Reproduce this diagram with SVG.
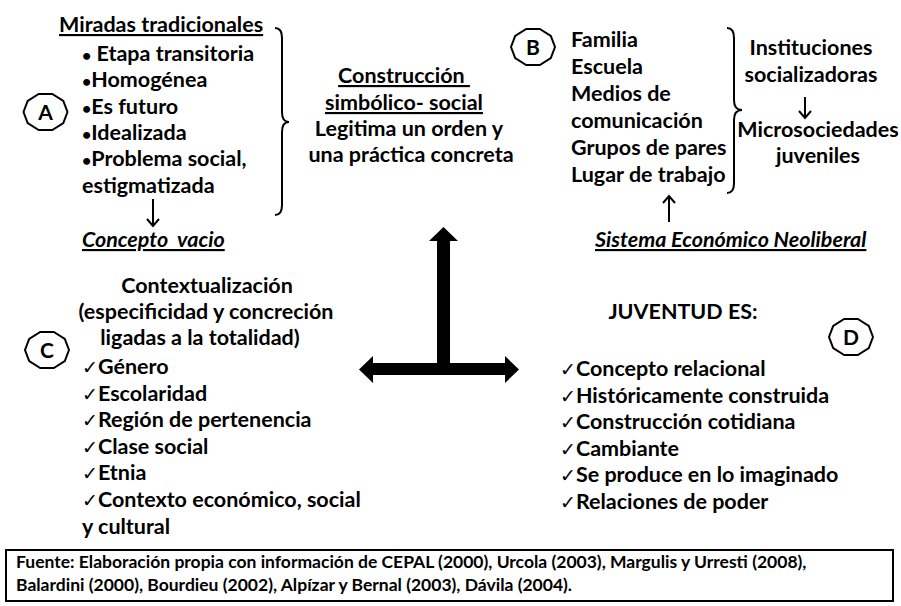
<svg xmlns="http://www.w3.org/2000/svg" width="901" height="606" viewBox="0 0 901 606">
<defs>
<style>
.t{font-family:Lato,"Liberation Sans",sans-serif;font-weight:700;font-size:21.5px;fill:#000}
.m{text-anchor:middle}
.u{text-decoration:underline}
.i{font-style:italic}
.b{font-size:16px}
.ck{font-family:"DejaVu Sans",sans-serif;font-weight:400;font-size:19px}
.f{font-family:Lato,"Liberation Sans",sans-serif;font-weight:700;font-size:17.5px;fill:#000}
.oct{fill:#fff;stroke:#000;stroke-width:2}
.ln{fill:none;stroke:#000;stroke-width:2}
.lbl{font-family:Lato,"Liberation Sans",sans-serif;font-weight:700;font-size:21px;text-anchor:middle}
</style>
<polygon id="octa" points="22,0 17.8,11.2 6.8,18.1 -6.8,18.1 -17.8,11.2 -22,0 -17.8,-11.2 -6.8,-18.1 6.8,-18.1 17.8,-11.2"/>
</defs>
<rect width="901" height="606" fill="#fff"/>

<g id="nodeA">
<use href="#octa" class="oct" x="45.5" y="112"/>
<text class="lbl" x="45.5" y="119.5">A</text>
<text class="t u" x="59" y="32">Miradas tradicionales</text>
<text class="t" x="82" y="61"><tspan class="b">•</tspan> Etapa transitoria</text>
<text class="t" x="82" y="87"><tspan class="b">•</tspan>Homogénea</text>
<text class="t" x="82" y="114"><tspan class="b">•</tspan>Es futuro</text>
<text class="t" x="82" y="140"><tspan class="b">•</tspan>Idealizada</text>
<text class="t" x="82" y="166"><tspan class="b">•</tspan>Problema social,</text>
<text class="t" x="82" y="193">estigmatizada</text>
<path class="ln" d="M275,28 Q282,28 282,38 L282,112 Q282,122 289,122 Q282,122 282,132 L282,205 Q282,215 275,215"/>
</g>

<g id="nodeConcepto">
<text class="t i u" x="82" y="247" xml:space="preserve">Concepto  vacio</text>
</g>

<g id="nodeCentro">
<text class="t m u" x="404" y="83" xml:space="preserve">Construcción </text>
<text class="t m u" x="404" y="110">simbólico- social</text>
<text class="t m" x="409" y="136">Legitima un orden y</text>
<text class="t m" x="411" y="162">una práctica concreta</text>
</g>

<g id="nodeB">
<use href="#octa" class="oct" x="533" y="47"/>
<text class="lbl" x="533" y="54.5">B</text>
<text class="t" x="571" y="47">Familia</text>
<text class="t" x="571" y="74">Escuela</text>
<text class="t" x="571" y="101">Medios de</text>
<text class="t" x="571" y="128">comunicación</text>
<text class="t" x="571" y="155">Grupos de pares</text>
<text class="t" x="571" y="182">Lugar de trabajo</text>
<path class="ln" d="M727,28 Q734,28 734,38 L734,100 Q734,110 742,110 Q734,110 734,120 L734,183 Q734,193 727,193"/>
</g>

<g id="nodeInstituciones">
<text class="t m" x="811" y="55">Instituciones</text>
<text class="t m" x="811" y="82">socializadoras</text>
</g>

<g id="nodeMicro">
<text class="t m" x="818" y="137">Microsociedades</text>
<text class="t m" x="818" y="163">juveniles</text>
</g>

<g id="nodeSistema">
<text class="t i u" x="595" y="247">Sistema Económico Neoliberal</text>
</g>

<g id="nodeC">
<use href="#octa" class="oct" x="47" y="350"/>
<text class="lbl" x="47" y="357.5">C</text>
<text class="t m" x="207" y="293">Contextualización</text>
<text class="t m" x="206" y="319">(especificidad y concreción</text>
<text class="t m" x="200" y="345">ligadas a la totalidad)</text>
<text class="t" x="82" y="374"><tspan class="ck">✓</tspan>Género</text>
<text class="t" x="82" y="400.5"><tspan class="ck">✓</tspan>Escolaridad</text>
<text class="t" x="82" y="427"><tspan class="ck">✓</tspan>Región de pertenencia</text>
<text class="t" x="82" y="454"><tspan class="ck">✓</tspan>Clase social</text>
<text class="t" x="82" y="480"><tspan class="ck">✓</tspan>Etnia</text>
<text class="t" x="82" y="507"><tspan class="ck">✓</tspan>Contexto económico, social</text>
<text class="t" x="82" y="534">y cultural</text>
</g>

<g id="nodeD">
<use href="#octa" class="oct" x="851" y="337"/>
<text class="lbl" x="851" y="344.5">D</text>
<text class="t m" x="683" y="319">JUVENTUD ES:</text>
<text class="t" x="560" y="376"><tspan class="ck">✓</tspan>Concepto relacional</text>
<text class="t" x="560" y="403"><tspan class="ck">✓</tspan>Históricamente construida</text>
<text class="t" x="560" y="429"><tspan class="ck">✓</tspan>Construcción cotidiana</text>
<text class="t" x="560" y="456"><tspan class="ck">✓</tspan>Cambiante</text>
<text class="t" x="560" y="482"><tspan class="ck">✓</tspan>Se produce en lo imaginado</text>
<text class="t" x="560" y="509"><tspan class="ck">✓</tspan>Relaciones de poder</text>
</g>

<g id="nodeFuente">
<rect x="6" y="550" width="887" height="51" fill="#fff" stroke="#000" stroke-width="2"/>
<text class="f" x="16" y="568">Fuente: Elaboración propia con información de CEPAL (2000), Urcola (2003), Margulis y Urresti (2008),</text>
<text class="f" x="16" y="591">Balardini (2000), Bourdieu (2002), Alpízar y Bernal (2003), Dávila (2004).</text>
</g>

<g id="connectors">
<path class="ln" d="M153,199 V226 M147,219 L153,226 L159,219"/>
<path class="ln" d="M669,222 V196 M663,203 L669,196 L675,203"/>
<path class="ln" d="M805,97 V118 M799,111 L805,118 L811,111"/>
<polygon fill="#000" points="443.5,227 458,241 450,241 450,363 505,363 505,356 519,369.5 505,383 505,375 373,375 373,383 359,369.5 373,356 373,363 437,363 437,241 429,241"/>
</g>
</svg>
